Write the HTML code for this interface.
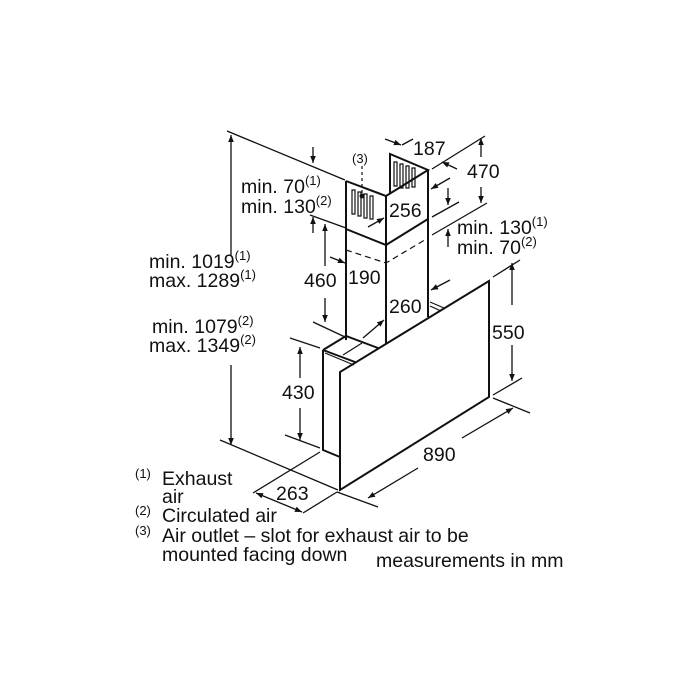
<!DOCTYPE html>
<html><head><meta charset="utf-8"><style>
html,body{margin:0;padding:0;background:#fff}
svg{display:block}
text{font-family:"Liberation Sans",sans-serif;fill:#111}
.t{font-size:19.5px}
.s{font-size:13px}
</style></head><body>
<svg width="700" height="700" viewBox="0 0 700 700" xmlns="http://www.w3.org/2000/svg">
<defs>
<marker id="a" viewBox="0 0 10 10" refX="10" refY="5" markerWidth="9" markerHeight="7" orient="auto-start-reverse" markerUnits="userSpaceOnUse"><path d="M0,1 L10,5 L0,9 z" fill="#111"/></marker>
</defs>
<g stroke="#111" fill="none" stroke-width="2">
<path d="M346,181 L346,340 M386,196 L386,343 M428,170 L428,317"/>
<path d="M346,181 L386,196 L428,170 L390,154 L390,193"/>
<path d="M346,229 L386,245 L428,219"/>
<path d="M489,281 L340,372 L340,490 L489,397 Z"/>
<path d="M323,350 L346,336 L378,348"/>
<path d="M323,350 L323,450 L340,457"/>
<path d="M323,350 L355,362"/>
</g>
<g stroke="#111" fill="none" stroke-width="1.2">
<path d="M325,353 L354,365"/>
<path d="M362,343 L343,355"/>
<path d="M430,302 L444,308 M430,306 L441,311"/>
<path d="M346,250 L386,263 L428,238" stroke-dasharray="6,4"/>
<path d="M352,190 h3 v24 h-3 z M358,192 h3 v24 h-3 z M364,194 h3 v24 h-3 z M370,196 h3 v23 h-3 z"/>
<path d="M394,162 h3 v24 h-3 z M400,164 h3 v24 h-3 z M406,166 h3 v22 h-3 z M412,168 h3 v19 h-3 z"/>
<path d="M362,166 L362,194" stroke-dasharray="3,3"/>
</g>
<circle cx="362" cy="196" r="2.5" fill="#111"/>
<g stroke="#111" fill="none" stroke-width="1.3">
<path d="M227,131 L345,180"/>
<path d="M220,440 L338,490"/>
<path d="M310,215 L346,228"/>
<path d="M313,322 L345,337"/>
<path d="M290,338 L320,348 M285,435 L320,448"/>
<path d="M402,145 L413,139"/>
<path d="M432,169 L485,136 M432,217 L459,202 M432,235 L487,203"/>
<path d="M493,277 L520,260 M493,395 L522,378"/>
<path d="M493,398 L530,413 M337,492 L378,507"/>
<path d="M320,452 L253,493 M337,492 L303,513"/>
<path d="M231,255 L231,135" marker-end="url(#a)"/>
<path d="M231,365 L231,445" marker-end="url(#a)"/>
<path d="M313,147 L313,163" marker-end="url(#a)"/>
<path d="M313,233 L313,217" marker-end="url(#a)"/>
<path d="M325,266 L325,224" marker-end="url(#a)"/>
<path d="M325,298 L325,322" marker-end="url(#a)"/>
<path d="M330,257 L345,263" marker-end="url(#a)"/>
<path d="M368,227 L384,218" marker-end="url(#a)"/>
<path d="M385,139 L401,145" marker-end="url(#a)"/>
<path d="M457,169 L442,162" marker-end="url(#a)"/>
<path d="M450,178 L431,189" marker-end="url(#a)"/>
<path d="M481,157 L481,138" marker-end="url(#a)"/>
<path d="M481,187 L481,203" marker-end="url(#a)"/>
<path d="M448,188 L448,205" marker-end="url(#a)"/>
<path d="M448,247 L448,229" marker-end="url(#a)"/>
<path d="M450,280 L431,290" marker-end="url(#a)"/>
<path d="M363,338 L384,320" marker-end="url(#a)"/>
<path d="M512,305 L512,263" marker-end="url(#a)"/>
<path d="M512,345 L512,381" marker-end="url(#a)"/>
<path d="M300,378 L300,347" marker-end="url(#a)"/>
<path d="M300,408 L300,440" marker-end="url(#a)"/>
<path d="M256,493 L302,512" marker-end="url(#a)" marker-start="url(#a)"/>
<path d="M418,468 L368,498" marker-end="url(#a)"/>
<path d="M462,438 L513,408" marker-end="url(#a)"/>
</g>
<text class="t" x="149" y="268">min. 1019<tspan class="s" dy="-8">(1)</tspan></text>
<text class="t" x="149" y="287">max. 1289<tspan class="s" dy="-8">(1)</tspan></text>
<text class="t" x="152" y="333">min. 1079<tspan class="s" dy="-8">(2)</tspan></text>
<text class="t" x="149" y="352">max. 1349<tspan class="s" dy="-8">(2)</tspan></text>
<text class="t" x="241" y="193">min. 70<tspan class="s" dy="-8">(1)</tspan></text>
<text class="t" x="241" y="213">min. 130<tspan class="s" dy="-8">(2)</tspan></text>
<text class="s" x="352" y="163">(3)</text>
<text class="t" x="304" y="287">460</text>
<text class="t" x="348" y="284">190</text>
<text class="t" x="389" y="217">256</text>
<text class="t" x="413" y="155">187</text>
<text class="t" x="467" y="178">470</text>
<text class="t" x="457" y="234">min. 130<tspan class="s" dy="-8">(1)</tspan></text>
<text class="t" x="457" y="254">min. 70<tspan class="s" dy="-8">(2)</tspan></text>
<text class="t" x="389" y="313">260</text>
<text class="t" x="492" y="339">550</text>
<text class="t" x="282" y="399">430</text>
<text class="t" x="423" y="461">890</text>
<text class="t" x="276" y="500">263</text>
<text class="s" x="135" y="478">(1)</text>
<text class="t" x="162" y="485">Exhaust</text>
<text class="t" x="162" y="503">air</text>
<text class="s" x="135" y="515">(2)</text>
<text class="t" x="162" y="522">Circulated air</text>
<text class="s" x="135" y="535">(3)</text>
<text class="t" x="162" y="542">Air outlet – slot for exhaust air to be</text>
<text class="t" x="162" y="561">mounted facing down</text>
<text class="t" x="376" y="567">measurements in mm</text>
</svg>
</body></html>
